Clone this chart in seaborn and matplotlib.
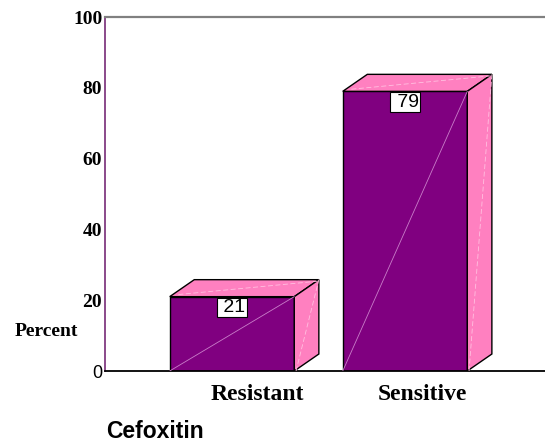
import matplotlib
matplotlib.use("Agg")
import matplotlib.pyplot as plt
import matplotlib.transforms as mtransforms
from matplotlib.patches import Polygon
import pandas as pd
import seaborn as sns

# Data
categories = ["Resistant", "Sensitive"]
percent = [21, 79]
y_ticks = [0, 20, 40, 60, 80, 100]
y_tick_labels = ["0", "20", "40", "60", "80", "100"]
y_title = "Percent"
x_title = "Cefoxitin"

df = pd.DataFrame({"category": categories, "percent": percent})

sns.set_style("white")
plt.rcParams["font.family"] = ["Liberation Serif", "DejaVu Serif"]
plt.rcParams["text.color"] = "black"
plt.rcParams["xtick.color"] = "black"
plt.rcParams["ytick.color"] = "black"
plt.rcParams["axes.labelcolor"] = "black"

W, H = 545, 446
fig = plt.figure(figsize=(W / 100, H / 100), dpi=100)
ax = fig.add_axes([105 / W, 75 / H, 440 / W, 354 / H])

FRONT = "#800080"
SIDE = "#ff80c0"

sns.barplot(data=df, x="category", y="percent", color=FRONT, saturation=1,
            width=0.72, edgecolor="black", linewidth=1.0, ax=ax, zorder=2)

ax.set_xlim(-0.734, 1.809)
ax.set_ylim(0, 100)

# pseudo-3D depth in data units
dx, dy = 0.142, 4.8

for patch, v in zip(list(ax.patches), percent):
    x0 = patch.get_x()
    w = patch.get_width()
    h = patch.get_height()
    top = Polygon([(x0, h), (x0 + dx, h + dy), (x0 + w + dx, h + dy), (x0 + w, h)],
                  closed=True, fc=SIDE, ec="black", lw=1.0, zorder=2)
    side = Polygon([(x0 + w, 0), (x0 + w + dx, dy), (x0 + w + dx, h + dy), (x0 + w, h)],
                   closed=True, fc=SIDE, ec="black", lw=1.0, zorder=2)
    ax.add_patch(top)
    ax.add_patch(side)
    # faint shading lines on each face
    ax.plot([x0, x0 + w], [0, h], color="#c97ec9", lw=0.6, zorder=3)
    ax.plot([x0 + w + 0.01, x0 + w + dx], [0, h + dy], color="#ffc0e0", lw=0.6,
            ls=(0, (6, 3)), zorder=3)
    ax.plot([x0 + 0.05, x0 + w + dx], [h + 0.6, h + dy - 0.4], color="#ffc0e0", lw=0.6,
            ls=(0, (6, 3)), zorder=3)
    # value label box
    ax.annotate(f" {v:g}", xy=(x0 + w / 2, h), xytext=(0, -1.6),
                textcoords="offset points", ha="center", va="top",
                fontsize=14, family=["Liberation Sans", "DejaVu Sans"],
                color="black", zorder=4,
                bbox=dict(boxstyle="square,pad=0.06", fc="white", ec="black", lw=0.8))

# spines
for s in ax.spines.values():
    s.set_visible(False)
ax.spines["left"].set_visible(True)
ax.spines["left"].set_color("#8a4a8a")
ax.spines["left"].set_linewidth(1.4)
ax.spines["bottom"].set_visible(True)
ax.spines["bottom"].set_color("black")
ax.spines["bottom"].set_linewidth(1.3)
ax.spines["top"].set_visible(True)
ax.spines["top"].set_color("#808080")
ax.spines["top"].set_linewidth(1.6)

# y axis
ax.set_yticks(y_ticks)
ax.set_yticklabels(y_tick_labels, fontsize=14, fontweight="bold")
ax.tick_params(axis="y", length=0, pad=2)
zero_lbl = ax.get_yticklabels()[0]
zero_lbl.set_fontfamily(["Liberation Sans", "DejaVu Sans"])
zero_lbl.set_fontweight("normal")
zero_lbl.set_fontsize(13)

# x axis
ax.set_xticks(range(len(categories)))
ax.set_xticklabels(categories, fontsize=17, fontweight="bold")
ax.tick_params(axis="x", direction="out", length=3, width=1, color="black", pad=6)
for lbl, off in zip(ax.get_xticklabels(), [25, 17]):
    lbl.set_transform(lbl.get_transform() +
                      mtransforms.ScaledTranslation(off / 100, 0, fig.dpi_scale_trans))

ax.set_xlabel("")
ax.set_ylabel("")
ax.grid(False)

fig.text(46.5 / W, 1 - 331 / H, y_title, ha="center", va="center",
         fontsize=14, fontweight="bold")
fig.text(106 / W, 1 - 432 / H, x_title, ha="left", va="center",
         fontsize=16.5, fontweight="bold", family=["Liberation Sans", "DejaVu Sans"])

fig.savefig("out.png", dpi=100)
